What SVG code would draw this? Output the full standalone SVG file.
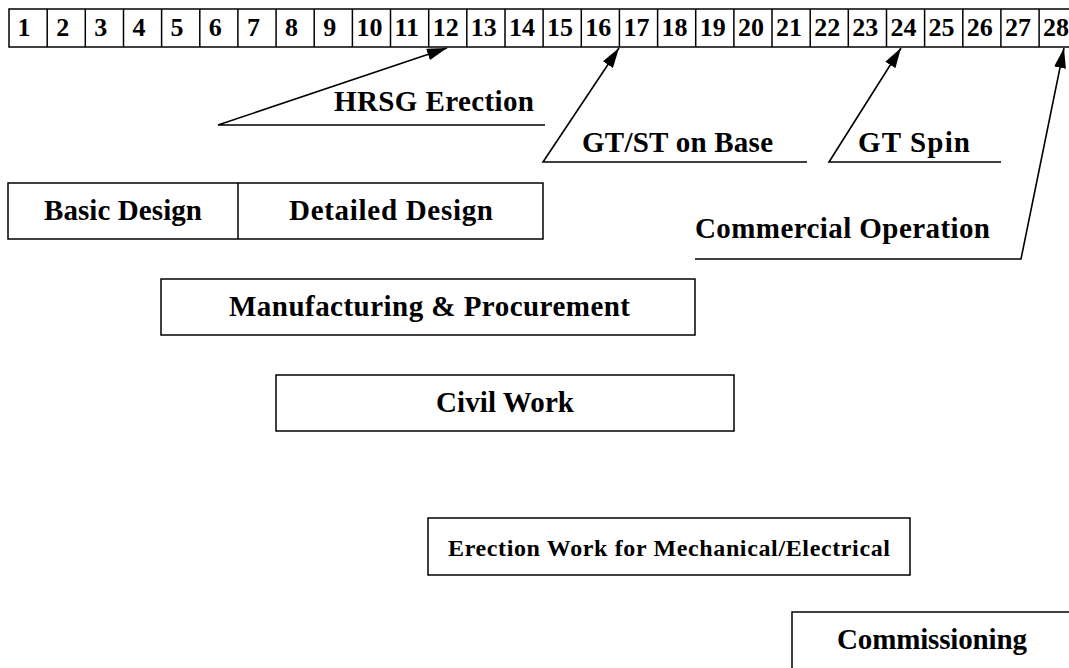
<svg xmlns="http://www.w3.org/2000/svg" width="1069" height="668" viewBox="0 0 1069 668">
  <style>
    .cell { fill: #fff; stroke: #000; stroke-width: 1.5; }
    .num { font-family: "Liberation Serif", serif; font-weight: bold; font-size: 26px; fill: #000; }
    .box { fill: #fff; stroke: #000; stroke-width: 1.5; }
    .lbl { font-family: "Liberation Serif", serif; font-weight: bold; font-size: 29px; fill: #000; }
    .lbl-sm { font-family: "Liberation Serif", serif; font-weight: bold; font-size: 24px; fill: #000; }
    .conn { fill: none; stroke: #000; stroke-width: 1.6; }
  </style>
  <defs>
    <marker id="head" viewBox="0 0 20 12" refX="20" refY="6" markerWidth="20" markerHeight="12" markerUnits="userSpaceOnUse" orient="auto">
      <path d="M0,0 L20,6 L0,12 Z" fill="#000"/>
    </marker>
  </defs>
  <rect width="1069" height="668" fill="#fff"/>

  <!-- month ruler -->
  <g id="timeline">
    <rect class="cell" x="9" y="9" width="1080" height="38"/>
    <g stroke="#000" stroke-width="1.5">
      <line x1="47.2" y1="9" x2="47.2" y2="47"/>
      <line x1="85.3" y1="9" x2="85.3" y2="47"/>
      <line x1="123.5" y1="9" x2="123.5" y2="47"/>
      <line x1="161.6" y1="9" x2="161.6" y2="47"/>
      <line x1="199.8" y1="9" x2="199.8" y2="47"/>
      <line x1="237.9" y1="9" x2="237.9" y2="47"/>
      <line x1="276.1" y1="9" x2="276.1" y2="47"/>
      <line x1="314.2" y1="9" x2="314.2" y2="47"/>
      <line x1="352.4" y1="9" x2="352.4" y2="47"/>
      <line x1="390.5" y1="9" x2="390.5" y2="47"/>
      <line x1="428.7" y1="9" x2="428.7" y2="47"/>
      <line x1="466.8" y1="9" x2="466.8" y2="47"/>
      <line x1="505.0" y1="9" x2="505.0" y2="47"/>
      <line x1="543.1" y1="9" x2="543.1" y2="47"/>
      <line x1="581.3" y1="9" x2="581.3" y2="47"/>
      <line x1="619.4" y1="9" x2="619.4" y2="47"/>
      <line x1="657.6" y1="9" x2="657.6" y2="47"/>
      <line x1="695.7" y1="9" x2="695.7" y2="47"/>
      <line x1="733.9" y1="9" x2="733.9" y2="47"/>
      <line x1="772.0" y1="9" x2="772.0" y2="47"/>
      <line x1="810.2" y1="9" x2="810.2" y2="47"/>
      <line x1="848.3" y1="9" x2="848.3" y2="47"/>
      <line x1="886.5" y1="9" x2="886.5" y2="47"/>
      <line x1="924.6" y1="9" x2="924.6" y2="47"/>
      <line x1="962.8" y1="9" x2="962.8" y2="47"/>
      <line x1="1000.9" y1="9" x2="1000.9" y2="47"/>
      <line x1="1039.1" y1="9" x2="1039.1" y2="47"/>
    </g>
    <g class="num">
      <text x="17.5" y="36">1</text>
      <text x="56.2" y="36">2</text>
      <text x="94.3" y="36">3</text>
      <text x="132.5" y="36">4</text>
      <text x="170.6" y="36">5</text>
      <text x="208.8" y="36">6</text>
      <text x="246.9" y="36">7</text>
      <text x="285.1" y="36">8</text>
      <text x="323.2" y="36">9</text>
      <text x="356.4" y="36">10</text>
      <text x="394.5" y="36">11</text>
      <text x="432.7" y="36">12</text>
      <text x="470.8" y="36">13</text>
      <text x="509" y="36">14</text>
      <text x="547.1" y="36">15</text>
      <text x="585.3" y="36">16</text>
      <text x="623.4" y="36">17</text>
      <text x="661.6" y="36">18</text>
      <text x="699.7" y="36">19</text>
      <text x="737.9" y="36">20</text>
      <text x="776" y="36">21</text>
      <text x="814.2" y="36">22</text>
      <text x="852.3" y="36">23</text>
      <text x="890.5" y="36">24</text>
      <text x="928.6" y="36">25</text>
      <text x="966.8" y="36">26</text>
      <text x="1004.9" y="36">27</text>
      <text x="1043.1" y="36">28</text>
    </g>
  </g>

  <!-- milestone leaders -->
  <g id="connectors">
    <polyline class="conn" points="545,125 218,125 447,48" marker-end="url(#head)"/>
    <polyline class="conn" points="807,162 543,162 619,48" marker-end="url(#head)"/>
    <polyline class="conn" points="1001,162 829,162 901,48" marker-end="url(#head)"/>
    <polyline class="conn" points="695,259 1021,259 1064,48" marker-end="url(#head)"/>
  </g>

  <!-- milestone labels -->
  <g id="m-hrsg"><text class="lbl" x="334" y="111" textLength="200">HRSG Erection</text></g>
  <g id="m-gtst"><text class="lbl" x="582" y="152" textLength="191">GT/ST on Base</text></g>
  <g id="m-gtspin"><text class="lbl" x="858" y="152" textLength="112">GT Spin</text></g>
  <g id="m-cod"><text class="lbl" x="695" y="238" textLength="295">Commercial Operation</text></g>

  <!-- activity bars -->
  <g id="design">
    <rect class="box" x="8" y="183" width="535" height="56"/>
    <line x1="238" y1="183" x2="238" y2="239" stroke="#000" stroke-width="1.5"/>
    <text class="lbl" x="44" y="220" textLength="158">Basic Design</text>
    <text class="lbl" x="289" y="220" textLength="204">Detailed Design</text>
  </g>
  <g id="manufacturing">
    <rect class="box" x="161" y="279" width="534" height="56"/>
    <text class="lbl" x="229" y="316" textLength="401">Manufacturing &amp; Procurement</text>
  </g>
  <g id="civil">
    <rect class="box" x="276" y="375" width="458" height="56"/>
    <text class="lbl" x="436" y="412" textLength="138">Civil Work</text>
  </g>
  <g id="erection">
    <rect class="box" x="428" y="518" width="482" height="57"/>
    <text class="lbl-sm" x="448" y="556" textLength="442">Erection Work for Mechanical/Electrical</text>
  </g>
  <g id="commissioning">
    <rect class="box" x="792" y="612" width="290" height="70"/>
    <text class="lbl" x="837" y="649" textLength="190">Commissioning</text>
  </g>
</svg>
